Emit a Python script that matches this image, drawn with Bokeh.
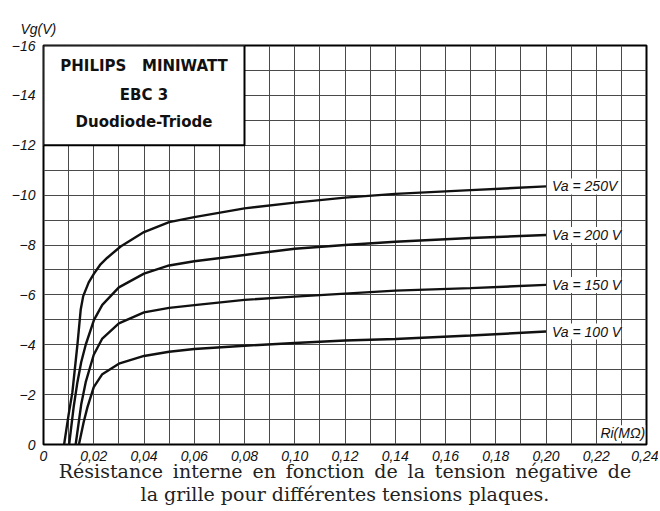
from bokeh.plotting import figure
from bokeh.models import Range1d, FixedTicker, Label, LabelSet, ColumnDataSource
from bokeh.core.properties import value
from bokeh.embed import file_html
from bokeh.resources import INLINE

# ---- data ----
r_250 = [0.0082, 0.0100, 0.0115, 0.0135, 0.0148, 0.0158, 0.0180, 0.0201, 0.0225, 0.0254, 0.0307, 0.040, 0.050, 0.060, 0.080, 0.100, 0.120, 0.140, 0.170, 0.200]
vg_250 = [0.0, -1.2, -2.1, -4.0, -5.4, -5.95, -6.5, -6.85, -7.2, -7.49, -7.94, -8.52, -8.92, -9.12, -9.47, -9.70, -9.90, -10.05, -10.20, -10.35]

r_200 = [0.0102, 0.0120, 0.0135, 0.0150, 0.0168, 0.0201, 0.0234, 0.030, 0.040, 0.050, 0.060, 0.080, 0.100, 0.120, 0.140, 0.170, 0.200]
vg_200 = [0.0, -1.5, -2.5, -3.3, -4.0, -5.0, -5.6, -6.3, -6.85, -7.18, -7.35, -7.60, -7.85, -8.00, -8.13, -8.28, -8.40]

r_150 = [0.0128, 0.0150, 0.0168, 0.0200, 0.0234, 0.030, 0.040, 0.050, 0.061, 0.080, 0.100, 0.120, 0.140, 0.170, 0.200]
vg_150 = [0.0, -1.6, -2.5, -3.6, -4.25, -4.86, -5.30, -5.48, -5.60, -5.80, -5.93, -6.05, -6.17, -6.27, -6.40]

r_100 = [0.0141, 0.0160, 0.0175, 0.0200, 0.0234, 0.030, 0.040, 0.050, 0.060, 0.080, 0.100, 0.120, 0.140, 0.170, 0.200]
vg_100 = [0.0, -0.9, -1.5, -2.3, -2.82, -3.24, -3.55, -3.72, -3.83, -3.96, -4.07, -4.17, -4.23, -4.37, -4.53]

curve_labels = ["Va = 250V", "Va = 200 V", "Va = 150 V", "Va = 100 V"]

x_ticks = [0.0, 0.02, 0.04, 0.06, 0.08, 0.10, 0.12, 0.14, 0.16, 0.18, 0.20, 0.22, 0.24]
x_tick_labels = ["0", "0,02", "0,04", "0,06", "0,08", "0,10", "0,12", "0,14", "0,16", "0,18", "0,20", "0,22", "0,24"]
y_ticks = [-16, -14, -12, -10, -8, -6, -4, -2, 0]
y_tick_labels = ["\u221216", "\u221214", "\u221212", "\u221210", "\u22128", "\u22126", "\u22124", "\u22122", "0"]
x_grid = [0.00, 0.01, 0.02, 0.03, 0.04, 0.05, 0.06, 0.07, 0.08, 0.09, 0.10, 0.11, 0.12,
          0.13, 0.14, 0.15, 0.16, 0.17, 0.18, 0.19, 0.20, 0.21, 0.22, 0.23, 0.24]
y_grid = [-16, -15, -14, -13, -12, -11, -10, -9, -8, -7, -6, -5, -4, -3, -2, -1, 0]

NB = "\u00a0"
box_lines = ["PHILIPS" + NB * 3 + "MINIWATT", "EBC 3", "Duodiode-Triode"]
caption = ["R\u00e9sistance interne en fonction de la tension n\u00e9gative de",
           "la grille pour diff\u00e9rentes tensions plaques."]

# ---- figure ----
p = figure(frame_width=603, frame_height=399, output_backend="svg", toolbar_location=None,
           x_range=Range1d(0, 0.24), y_range=Range1d(0, -16),
           min_border_left=43, min_border_right=12, min_border_top=45, min_border_bottom=0)
p.background_fill_color = "white"
p.border_fill_color = "white"
p.outline_line_color = "black"
p.outline_line_width = 2

for ax in (p.xaxis[0], p.yaxis[0]):
    ax.axis_line_color = None
    ax.major_tick_line_color = None
    ax.minor_tick_line_color = None
    ax.major_label_text_font = "Liberation Sans"
    ax.major_label_text_font_style = "italic"
    ax.major_label_text_font_size = "14px"
    ax.major_label_text_color = "#111111"

p.xaxis.ticker = FixedTicker(ticks=x_ticks)
p.xaxis.major_label_overrides = {t: l for t, l in zip(x_ticks, x_tick_labels)}
p.xaxis.major_label_standoff = 0
p.yaxis.ticker = FixedTicker(ticks=y_ticks)
p.yaxis.major_label_overrides = {t: l for t, l in zip(y_ticks, y_tick_labels)}
p.yaxis.major_label_standoff = 2

# caption as a two-line label under the x axis (first line justified a little wider)
line1 = caption[0].replace(" ", " \u2009")
p.xaxis.axis_label = line1 + "\n" + caption[1]
p.xaxis.axis_label_standoff = -4
p.xaxis.axis_label_text_font = "DejaVu Serif"
p.xaxis.axis_label_text_font_style = "normal"
p.xaxis.axis_label_text_font_size = "19px"
p.xaxis.axis_label_text_line_height = 1.05
p.xaxis.axis_label_text_color = "#222222"

p.xgrid.ticker = FixedTicker(ticks=x_grid)
p.ygrid.ticker = FixedTicker(ticks=y_grid)
for g in (p.xgrid[0], p.ygrid[0]):
    g.grid_line_color = "#4a4a4a"
    g.grid_line_width = 1

# y axis title (top-left)
p.title.text = "Vg(V)"
p.title.align = "left"
p.title.offset = -23
p.title.standoff = 18
p.title.text_font = "Liberation Sans"
p.title.text_font_style = "italic"
p.title.text_font_size = "14px"
p.title.text_color = "#111111"

# title box
p.quad(left=[x_ticks[0]], right=[x_ticks[4]], bottom=[y_ticks[2]], top=[y_ticks[0]],
       fill_color="white", line_color="black", line_width=2)
for txt, yy in zip(box_lines, [-15.19, -14.0, -12.94]):
    p.add_layout(Label(x=0.04, y=yy, text=txt, text_align="center", text_baseline="middle",
                       text_font="DejaVu Sans", text_font_style="bold", text_font_size="15px",
                       text_color="#111111"))

# curves
series = [(r_250, vg_250), (r_200, vg_200), (r_150, vg_150), (r_100, vg_100)]
for rr, vv in series:
    p.line(rr, vv, line_color="#111111", line_width=2.4)

src = ColumnDataSource(dict(x=[s[0][-1] for s in series], y=[s[1][-1] for s in series],
                            t=curve_labels))
p.add_layout(LabelSet(x="x", y="y", text="t", source=src, x_offset=6,
                      text_baseline="middle", text_align="left",
                      text_font=value("Liberation Sans"), text_font_style="italic",
                      text_font_size="14px", text_color="#111111",
                      background_fill_color="white"))

p.add_layout(Label(x=0.2395, y=-0.45, text="Ri(M\u03a9)", text_align="right", text_baseline="middle",
                   text_font="Liberation Sans", text_font_style="italic", text_font_size="14px",
                   text_color="#111111", background_fill_color="white"))

open("out.html", "w").write(file_html(p, INLINE))
